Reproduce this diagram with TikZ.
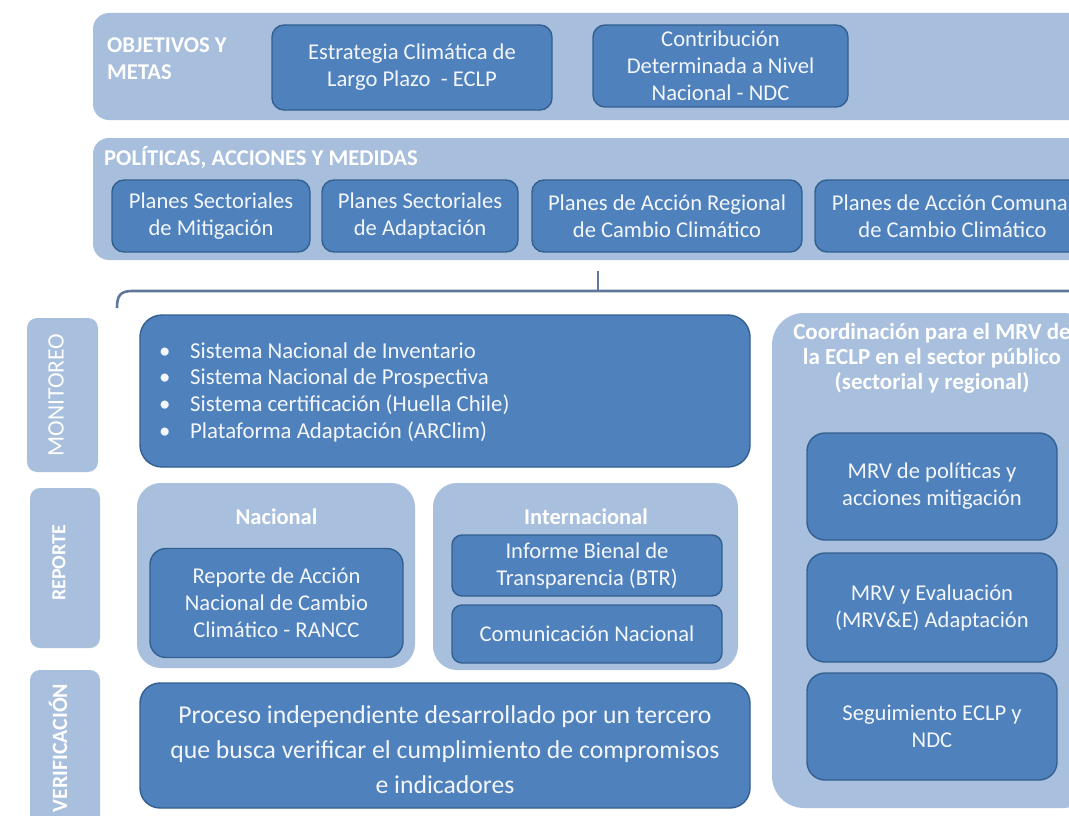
\documentclass[tikz,border=0pt]{standalone}
\usepackage{fontspec}
\setmainfont{Carlito}
\definecolor{darkc}{HTML}{4F81BD}
\definecolor{edgec}{HTML}{34608F}
\definecolor{bandc}{HTML}{A7BEDC}
\definecolor{lightc}{HTML}{A8BFDD}
\definecolor{txtc}{HTML}{F3F6FB}
\definecolor{brkc}{HTML}{5F7899}
\newcommand\fsz[2]{\fontsize{#1}{#2}\selectfont}
\begin{document}
\begin{tikzpicture}[x=1pt,y=-1pt,
  bandbox/.style={fill=bandc, draw=none, rounded corners=16pt, inner sep=0pt},
  lightbox/.style={fill=lightc, draw=none, rounded corners=24pt, inner sep=0pt},
  labbox/.style={fill=lightc, draw=none, rounded corners=10pt, inner sep=0pt},
  dbox/.style={fill=darkc, draw=edgec, line width=1.4pt, rounded corners=12pt,
    text=txtc, align=center, inner sep=0pt, font=\fsz{22.6}{27}},
  plaintext/.style={text=txtc, align=center, inner sep=0pt},
  bandlabel/.style={text=white, font=\bfseries\fsz{22.6}{27}, align=left, inner sep=0pt},
  sublabel/.style={text=white, font=\bfseries\fsz{22.5}{25}, inner sep=0pt},
  vlabel/.style={text=white, rotate=90, inner sep=0pt},
  brk/.style={draw=brkc, line width=2.6pt}
]
\useasboundingbox (0,0) rectangle (1069,816);
\clip (0,0) rectangle (1069,816);
\fill[white] (0,0) rectangle (1069,816);

% ---- Objetivos y metas band
\node[bandbox, minimum width=1020pt, minimum height=107pt] (bandobj) at (603,66.5) {};
\node[bandlabel, anchor=west] (labobj) at (107,59) {OBJETIVOS Y\\METAS};
\node[dbox, minimum width=280pt, minimum height=85pt] (eclp) at (412,67.5) {Estrategia Climática de\\Largo Plazo \ - ECLP};
\node[dbox, minimum width=255pt, minimum height=82pt] (ndc) at (720.5,66) {Contribución\\Determinada a Nivel\\Nacional - NDC};

% ---- Políticas band
\node[bandbox, minimum width=1020pt, minimum height=122pt] (bandpol) at (603,199) {};
\node[bandlabel, anchor=west] (labpol) at (104,158) {POLÍTICAS, ACCIONES Y MEDIDAS};
\node[dbox, minimum width=198pt, minimum height=72pt] (psm) at (211,216) {Planes Sectoriales\\de Mitigación};
\node[dbox, minimum width=196pt, minimum height=72pt] (psa) at (420,216) {Planes Sectoriales\\de Adaptación};
\node[dbox, minimum width=270pt, minimum height=72pt] (par) at (667,216) {Planes de Acción Regional\\de Cambio Climático};
\node[dbox, minimum width=275pt, minimum height=72pt] (pac) at (952.5,216) {Planes de Acción Comunal\\de Cambio Climático};

% ---- bracket
\coordinate (bl) at (117,308);
\coordinate (bt) at (598,291);
\coordinate (btop) at (598,271);
\coordinate (br) at (1080,291);
\draw[brk] (bl) .. controls (117,296) and (120,291) .. (132,291) -- (br);
\draw[brk] (bt) -- (btop);

% ---- side labels
\node[labbox, minimum width=71pt, minimum height=154pt] (lmon) at (62.5,395) {};
\node[vlabel, font=\fsz{23.5}{25}] (tmon) at (56,395) {MONITOREO};
\node[labbox, minimum width=70pt, minimum height=160pt] (lrep) at (65,568) {};
\node[vlabel, font=\bfseries\fsz{20}{25}] (trep) at (59,563) {REPORTE};
\node[labbox, minimum width=70pt, minimum height=180pt] (lver) at (65,760) {};
\node[vlabel, font=\bfseries\fsz{21.8}{25}] (tver) at (58,748) {VERIFICACIÓN};

% ---- Monitoreo
\node[dbox, rounded corners=22pt, minimum width=610pt, minimum height=152pt] (mon) at (445,391) {};
\node[anchor=west, align=left, text=txtc, font=\fsz{22.8}{26.7}, inner sep=0pt] (monlist) at (159,392)
 {\makebox[31pt][l]{\textbullet}Sistema Nacional de Inventario\\
  \makebox[31pt][l]{\textbullet}Sistema Nacional de Prospectiva\\
  \makebox[31pt][l]{\textbullet}Sistema certificación (Huella Chile)\\
  \makebox[31pt][l]{\textbullet}Plataforma Adaptación (ARClim)};

% ---- Reporte
\node[lightbox, minimum width=278pt, minimum height=185pt] (nac) at (276,575.5) {};
\node[sublabel] (tnac) at (276.5,517) {Nacional};
\node[dbox, rounded corners=16pt, minimum width=253pt, minimum height=109pt] (rancc) at (276.5,603) {Reporte de Acción\\Nacional de Cambio\\Climático - RANCC};
\node[lightbox, minimum width=305pt, minimum height=187pt] (inter) at (585.5,576.5) {};
\node[sublabel] (tint) at (586,517) {Internacional};
\node[dbox, rounded corners=10pt, minimum width=270pt, minimum height=61pt] (btr) at (587,565.5) {Informe Bienal de\\Transparencia (BTR)};
\node[dbox, rounded corners=10pt, minimum width=270pt, minimum height=58pt] (com) at (587,634) {Comunicación Nacional};

% ---- Verificación
\node[dbox, rounded corners=20pt, minimum width=610pt, minimum height=125pt] (ver) at (445,745.5) {};
\node[plaintext, font=\fsz{25.7}{35}] (vertext) at (445,750)
 {Proceso independiente desarrollado por un tercero\\que busca verificar el cumplimiento de compromisos\\e indicadores};

% ---- Coordinación
\node[lightbox, rounded corners=32pt, minimum width=323pt, minimum height=495pt] (coord) at (933.5,560.5) {};
\node[text=white, font=\bfseries\fsz{23}{25}, align=center, inner sep=0pt] (tcoord) at (932,358)
 {Coordinación para el MRV de\\la ECLP en el sector público\\(sectorial y regional)};
\node[dbox, rounded corners=18pt, minimum width=250pt, minimum height=107pt] (mrv1) at (932,486.5) {MRV de políticas y\\acciones mitigación};
\node[dbox, rounded corners=18pt, minimum width=250pt, minimum height=109pt] (mrv2) at (932,607.5) {MRV y Evaluación\\(MRV\&E) Adaptación};
\node[dbox, rounded corners=18pt, minimum width=250pt, minimum height=107pt] (mrv3) at (932,726.5) {Seguimiento ECLP y\\NDC};
\end{tikzpicture}
\end{document}
